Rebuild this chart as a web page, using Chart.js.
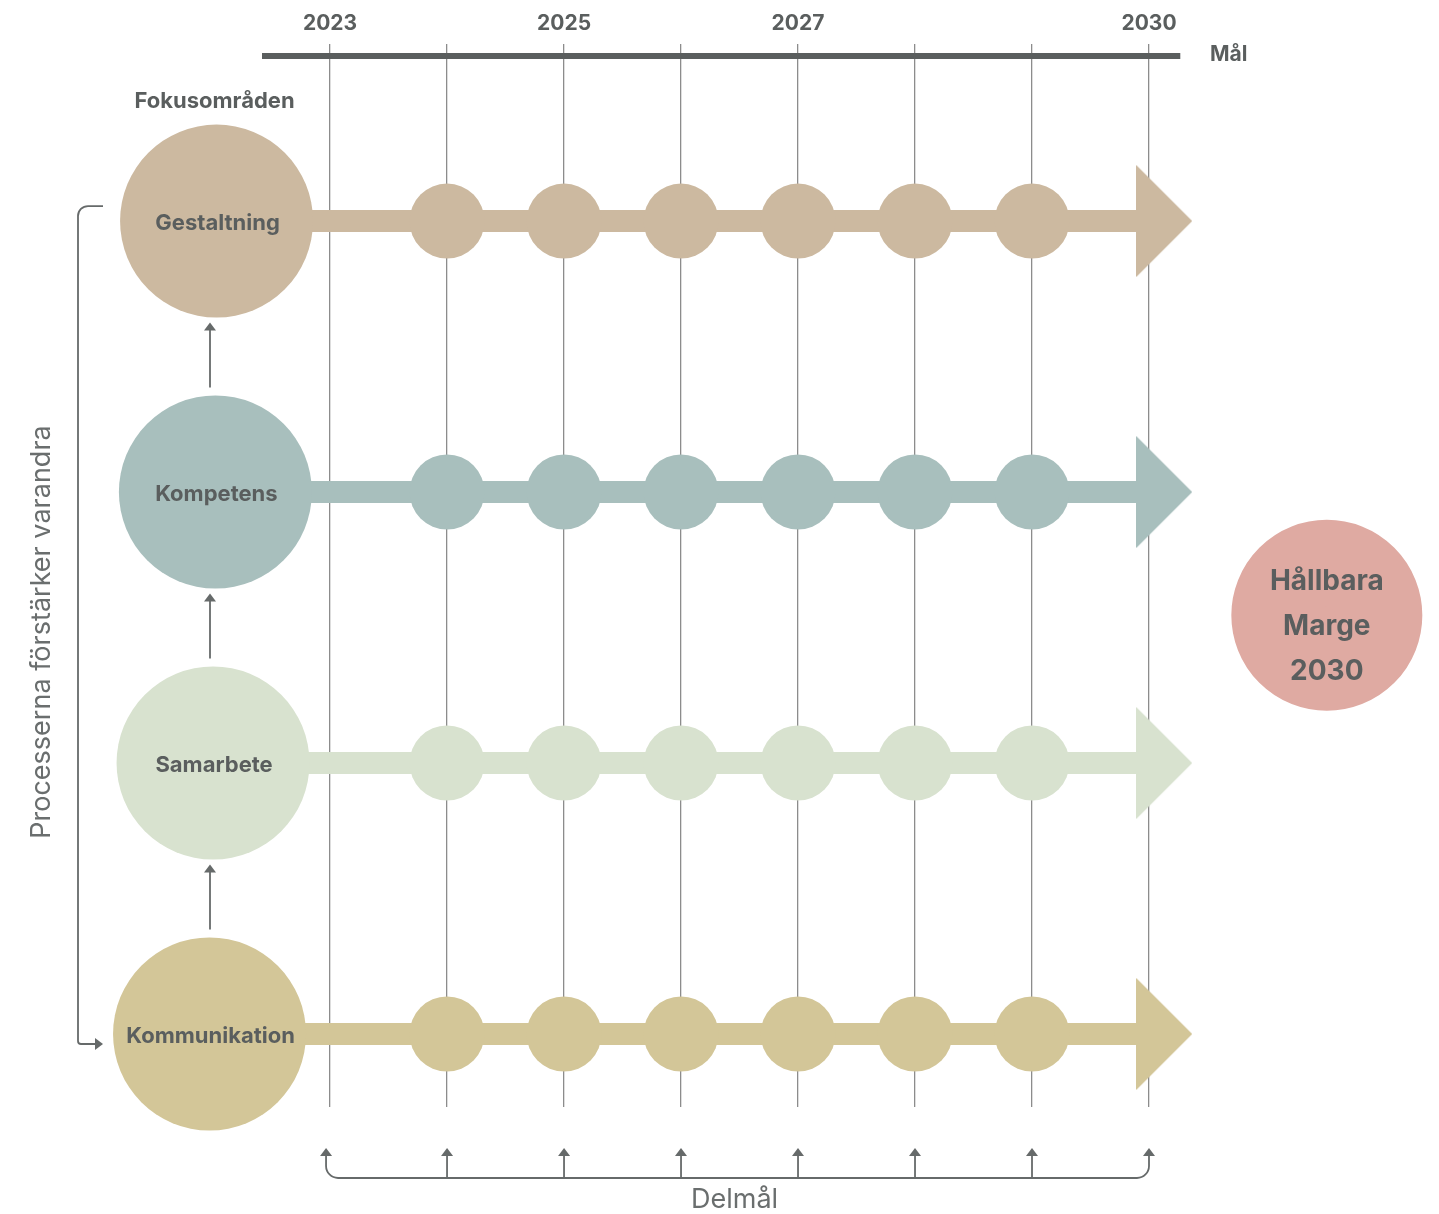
<!DOCTYPE html>
<html>
<head>
<meta charset="utf-8">
<script src="https://cdn.jsdelivr.net/npm/chart.js@4.4.1/dist/chart.umd.min.js"></script>
<style>
  html, body { margin: 0; background: #fff; }
  #wrap { width: 1439px; height: 1214px; }
</style>
</head>
<body>
<div id="wrap"><canvas id="roadmap"></canvas></div>
<script>
const years = [2023, 2024, 2025, 2026, 2027, 2028, 2029, 2030];
const yearLabels = ['2023', '', '2025', '', '2027', '', '', '2030'];
const milestoneYears = [2024, 2025, 2026, 2027, 2028, 2029];
const focusAreas = ['Gestaltning', 'Kompetens', 'Samarbete', 'Kommunikation'];
const focusLevels = [4, 3, 2, 1];
const focusStart = [2022.03, 2022.02, 2022.0, 2021.97];
const focusColors = ['#ccb9a0', '#a8bfbd', '#d8e2cf', '#d3c698'];
const lineEnd = 2030.0;
const arrowYear = 2030.13;
const goalLabel = ['Hållbara', 'Marge', '2030'];
const goalPoint = { x: 2031.52, y: 2.545 };
const goalColor = '#dfaaa2';

const TEXT = '#5a5e5e';
const LINE = '#666a6a';
const FONT = 'Inter, "Liberation Sans", sans-serif';

// arrow head used as point style at the end of each line
function arrowHead(color) {
    const c = document.createElement('canvas');
    c.width = 56;
    c.height = 112;
    const g = c.getContext('2d');
    g.fillStyle = color;
    g.beginPath();
    g.moveTo(0, 0);
    g.lineTo(56, 56);
    g.lineTo(0, 112);
    g.closePath();
    g.fill();
    return c;
}

const datasets = [];
focusAreas.forEach((name, i) => {
    const y = focusLevels[i];
    datasets.push({
        type: 'line',
        label: name + ' linje',
        data: [{ x: focusStart[i], y }, { x: lineEnd, y }],
        borderColor: focusColors[i],
        borderWidth: 22,
        borderCapStyle: 'butt',
        pointRadius: 0,
        clip: false,
        order: 4,
    });
    datasets.push({
        type: 'scatter',
        label: name + ' pil',
        data: [{ x: arrowYear, y }],
        pointStyle: arrowHead(focusColors[i]),
        clip: false,
        order: 3,
    });
    datasets.push({
        type: 'scatter',
        label: name + ' delmål',
        data: milestoneYears.map(x => ({ x, y })),
        backgroundColor: focusColors[i],
        pointRadius: 37.5,
        borderWidth: 0,
        clip: false,
        order: 2,
    });
    datasets.push({
        type: 'scatter',
        label: name,
        data: [{ x: focusStart[i], y }],
        backgroundColor: focusColors[i],
        pointRadius: 96.5,
        borderWidth: 0,
        clip: false,
        order: 1,
    });
});
// the goal sits far right of the plot area; a wide border of the same colour
// keeps Chart.js from skipping the point while the disc stays 95.5px
datasets.push({
    type: 'scatter',
    label: 'Mål',
    data: [goalPoint],
    backgroundColor: goalColor,
    borderColor: goalColor,
    pointRadius: 43.5,
    borderWidth: 104,
    clip: false,
    order: 1,
});

function arrowUp(ctx, x, tip) {
    ctx.beginPath();
    ctx.moveTo(x, tip);
    ctx.lineTo(x - 6, tip + 8);
    ctx.lineTo(x + 6, tip + 8);
    ctx.closePath();
    ctx.fill();
}

const annotations = {
    id: 'annotations',
    afterDatasetsDraw(chart) {
        const { ctx, scales: { x, y } } = chart;
        ctx.save();
        ctx.fillStyle = TEXT;
        ctx.textAlign = 'center';
        ctx.textBaseline = 'middle';

        // names inside the big circles
        ctx.font = `700 22px ${FONT}`;
        focusAreas.forEach((name, i) => {
            ctx.fillText(name, x.getPixelForValue(focusStart[i]) + 1, y.getPixelForValue(focusLevels[i]) + 2);
        });

        // goal circle
        const gx = x.getPixelForValue(goalPoint.x);
        const gy = y.getPixelForValue(goalPoint.y);
        ctx.font = `700 28px ${FONT}`;
        goalLabel.forEach((t, i) => ctx.fillText(t, gx, gy - 34 + i * 45));

        ctx.font = `700 22px ${FONT}`;
        ctx.fillText('Fokusområden', x.getPixelForValue(focusStart[0]) - 2, 101);
        ctx.textAlign = 'left';
        ctx.font = `700 21px ${FONT}`;
        ctx.fillText('Mål', x.right + 30, 55);

        // arrows between the focus circles
        ctx.strokeStyle = LINE;
        ctx.fillStyle = LINE;
        ctx.lineWidth = 1.8;
        for (let i = 0; i < focusAreas.length - 1; i++) {
            const top = y.getPixelForValue(focusLevels[i]) + 96.5 + 5;
            const bottom = y.getPixelForValue(focusLevels[i + 1]) - 96.5 - 8;
            ctx.beginPath();
            ctx.moveTo(210, bottom);
            ctx.lineTo(210, top + 6);
            ctx.stroke();
            arrowUp(ctx, 210, top);
        }

        // left bracket
        const bx = 78, r = 10;
        const bTop = y.getPixelForValue(focusLevels[0]) - 15;
        const bBot = y.getPixelForValue(focusLevels[3]) + 10;
        ctx.beginPath();
        ctx.moveTo(103, bTop);
        ctx.lineTo(bx + r, bTop);
        ctx.arcTo(bx, bTop, bx, bTop + r, r);
        ctx.lineTo(bx, bBot - 3);
        ctx.arcTo(bx, bBot, bx + 3, bBot, 3);
        ctx.lineTo(97, bBot);
        ctx.stroke();
        ctx.beginPath();
        ctx.moveTo(103, bBot);
        ctx.lineTo(95, bBot - 6);
        ctx.lineTo(95, bBot + 6);
        ctx.closePath();
        ctx.fill();

        // bottom bracket with milestone arrows
        const yb = 1178, tip = 1148, rr = 12;
        const x0 = x.getPixelForValue(years[0]) - 4;
        const x1 = x.getPixelForValue(years[years.length - 1]);
        ctx.beginPath();
        ctx.moveTo(x0, tip + 6);
        ctx.lineTo(x0, yb - rr);
        ctx.arcTo(x0, yb, x0 + rr, yb, rr);
        ctx.lineTo(x1 - rr, yb);
        ctx.arcTo(x1, yb, x1, yb - rr, rr);
        ctx.lineTo(x1, tip + 6);
        ctx.stroke();
        arrowUp(ctx, x0, tip);
        arrowUp(ctx, x1, tip);
        milestoneYears.forEach(v => {
            const px = x.getPixelForValue(v);
            ctx.beginPath();
            ctx.moveTo(px, yb);
            ctx.lineTo(px, tip + 6);
            ctx.stroke();
            arrowUp(ctx, px, tip);
        });

        ctx.fillStyle = '#6a6e6e';
        ctx.textAlign = 'center';
        ctx.font = `400 27px ${FONT}`;
        ctx.fillText('Delmål', (x0 + x1) / 2 - 3, 1200);

        ctx.translate(42, 632);
        ctx.rotate(-Math.PI / 2);
        ctx.fillText('Processerna förstärker varandra', 0, 0);
        ctx.restore();
    },
};

new Chart(document.getElementById('roadmap').getContext('2d'), {
    data: { datasets },
    options: {
        responsive: true,
        maintainAspectRatio: false,
        animation: false,
        events: [],
        layout: { autoPadding: false, padding: { top: 0, left: 265, right: 259, bottom: 107 } },
        plugins: {
            legend: { display: false },
            tooltip: { enabled: false },
        },
        scales: {
            x: {
                type: 'linear',
                position: 'top',
                bounds: 'data',
                // range set after data limits so points outside it are still drawn
                afterDataLimits: s => { s.min = 2022.444; s.max = 2030.265; },
                afterBuildTicks: s => { s.ticks = years.map(v => ({ value: v })); },
                afterFit: s => { s.height = 56; },
                ticks: {
                    autoSkip: false,
                    maxRotation: 0,
                    padding: 8,
                    color: TEXT,
                    font: { family: FONT, size: 21, weight: 'bold' },
                    callback: v => yearLabels[years.indexOf(v)] ?? '',
                },
                grid: { color: '#8c8c8c', lineWidth: 1.3, tickLength: 12 },
                border: { display: true, color: '#5a5e5e', width: 6 },
            },
            y: {
                type: 'linear',
                display: false,
                bounds: 'data',
                afterDataLimits: s => { s.min = 0.7306; s.max = 4.609; },
            },
        },
    },
    plugins: [annotations],
});
</script>
</body>
</html>
